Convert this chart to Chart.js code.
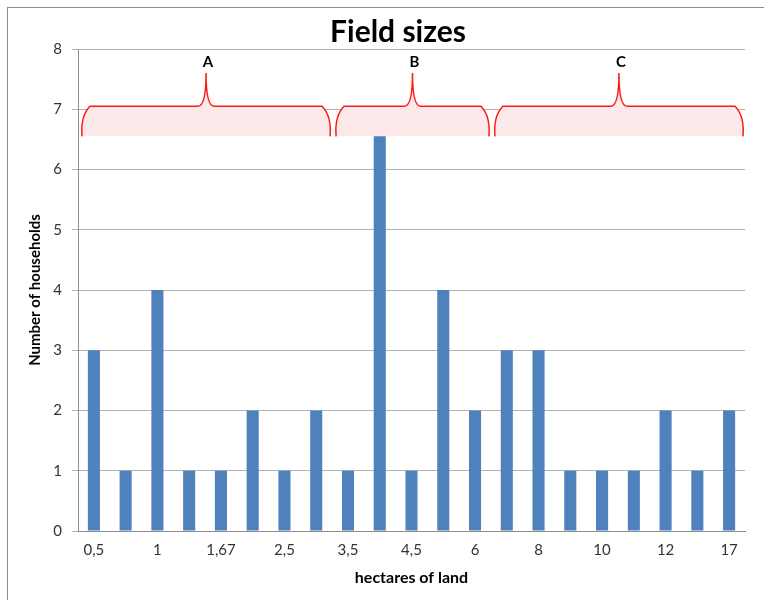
<!DOCTYPE html>
<html>
<head>
<meta charset="utf-8">
<script src="https://cdn.jsdelivr.net/npm/chart.js@4/dist/chart.umd.min.js"></script>
<style>
  html, body { margin: 0; padding: 0; background: #fff; }
  #wrap { width: 764px; height: 600px; position: relative; }
</style>
</head>
<body>
<div id="wrap"><canvas id="fieldChart" width="764" height="600"></canvas></div>
<script>
// hectares per household group (only every other label is printed on the axis)
const categories = ['0,5', '', '1', '', '1,67', '', '2,5', '', '3,5', '', '4,5', '', '6', '', '8', '', '10', '', '12', '', '17'];
const households = [3, 1, 4, 1, 1, 2, 1, 2, 1, 7, 1, 4, 2, 3, 3, 1, 1, 1, 2, 1, 2];

// brace annotations over groups of bars
const bracketLabels = ['A', 'B', 'C'];
const bracketStart = [0, 8, 13];
const bracketEnd = [7, 12, 20];

const FONT = 'Lato, "Open Sans", sans-serif';

const decorations = {
    id: 'decorations',
    afterDatasetsDraw(chart) {
        const ctx = chart.ctx;
        const x = chart.scales.x;
        const y = chart.scales.y;
        const half = (x.getPixelForValue(1) - x.getPixelForValue(0)) / 2;
        const yBottom = y.getPixelForValue(6.55);
        const yTop = y.getPixelForValue(7.05);
        const yPeak = y.getPixelForValue(7.6);
        const r = 8;

        bracketLabels.forEach((label, i) => {
            const x0 = x.getPixelForValue(bracketStart[i]) - half + 4;
            const x1 = x.getPixelForValue(bracketEnd[i]) + half - 2;
            const xm = (x0 + x1) / 2;

            ctx.save();
            ctx.beginPath();
            ctx.moveTo(x0, yBottom);
            ctx.bezierCurveTo(x0 - 1, yBottom - 12, x0, yTop + r, x0 + r, yTop);
            ctx.lineTo(xm - 8, yTop);
            ctx.quadraticCurveTo(xm, yTop, xm, yPeak);
            ctx.quadraticCurveTo(xm, yTop, xm + 8, yTop);
            ctx.lineTo(x1 - r, yTop);
            ctx.bezierCurveTo(x1, yTop + r, x1 + 1, yBottom - 12, x1, yBottom);
            ctx.fillStyle = '#fde9e9';
            ctx.fill();
            ctx.strokeStyle = '#ff1a1a';
            ctx.lineWidth = 1.5;
            ctx.stroke();

            ctx.fillStyle = '#000';
            ctx.font = 'bold 15px ' + FONT;
            ctx.textAlign = 'center';
            ctx.textBaseline = 'middle';
            ctx.fillText(label, xm + 2, yPeak - 11);
            ctx.restore();
        });

        // title and outer frame
        ctx.save();
        ctx.fillStyle = '#000';
        ctx.font = 'bold 30px ' + FONT;
        ctx.textAlign = 'center';
        ctx.textBaseline = 'middle';
        ctx.fillText('Field sizes', 398, 32);
        ctx.strokeStyle = '#8c8c8c';
        ctx.lineWidth = 1;
        ctx.strokeRect(7.5, 7.5, 800, 800);
        ctx.restore();
    }
};

new Chart(document.getElementById('fieldChart'), {
    type: 'bar',
    data: {
        labels: categories,
        datasets: [{
            label: 'Number of households',
            data: households,
            backgroundColor: '#4f81bd',
            categoryPercentage: 1,
            barPercentage: 0.38
        }]
    },
    options: {
        responsive: false,
        animation: false,
        layout: { padding: { left: 0, right: 19, top: 49, bottom: 0 } },
        plugins: {
            legend: { display: false },
            tooltip: { enabled: false }
        },
        scales: {
            x: {
                afterFit: scale => { scale.height = 69; },
                grid: { display: false, drawTicks: false },
                border: { color: '#8c8c8c' },
                ticks: {
                    autoSkip: false,
                    maxRotation: 0,
                    padding: 10,
                    color: '#333',
                    font: { family: FONT, size: 15 },
                    callback: function(value, index) {
                        return categories[index];
                    }
                },
                title: {
                    display: true,
                    text: 'hectares of land',
                    color: '#000',
                    font: { family: FONT, size: 16, weight: 'bold' },
                    padding: { top: 4, bottom: 13 }
                }
            },
            y: {
                min: 0,
                max: 8,
                afterFit: scale => { scale.width = 78; },
                grid: { color: '#b3b3b3', tickLength: 6 },
                border: { color: '#8c8c8c' },
                ticks: {
                    stepSize: 1,
                    padding: 10,
                    color: '#333',
                    font: { family: FONT, size: 15 }
                },
                title: {
                    display: true,
                    text: 'Number of households',
                    color: '#000',
                    font: { family: FONT, size: 15, weight: 'bold' },
                    padding: { top: 26 }
                }
            }
        }
    },
    plugins: [decorations]
});
</script>
</body>
</html>
